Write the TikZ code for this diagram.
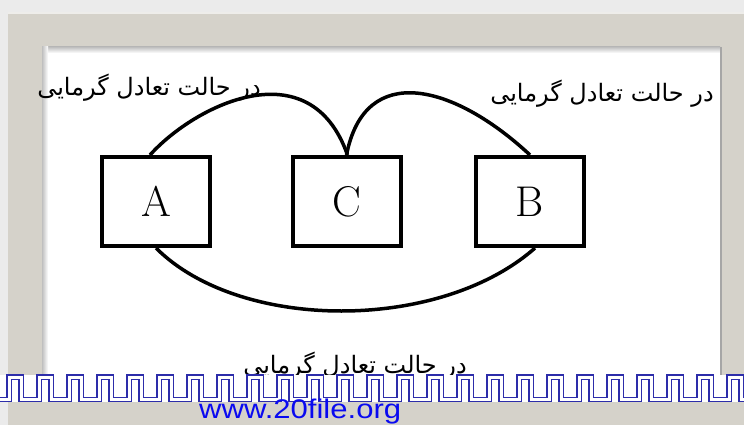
\documentclass[tikz,border=0pt]{standalone}
\usepackage{fontspec}
\newfontfamily\arabicfont[Script=Arabic]{DejaVu Sans}
\newfontfamily\linkfont{Liberation Sans}
\TeXXeTstate=1
\definecolor{framegray}{RGB}{213,210,202}
\definecolor{bandblue}{RGB}{45,45,170}
\definecolor{linkblue}{RGB}{10,10,240}
\tikzset{
  bodybox/.style={draw, line width=4pt, minimum width=108pt, minimum height=89pt,
    inner sep=0pt, font=\fontsize{43}{43}\selectfont},
  eqlabel/.style={font=\arabicfont\fontsize{24}{26}\selectfont, inner sep=0pt},
  arc/.style={line width=3.5pt},
  band/.style={draw=bandblue, line width=1.1pt, double=white, double distance=3pt}
}
\begin{document}
\begin{tikzpicture}[x=1pt, y=-1pt]
\useasboundingbox (0,0) rectangle (744,425);
\fill[black!8] (0,0) rectangle (744,425);
\fill[framegray] (8,12) rectangle (744,425);
\draw[white!60!framegray, line width=2pt] (8,13) -- (744,13);
\fill[white] (42,47) rectangle (720,380);
\shade[top color=black!25, bottom color=white] (42,47) rectangle (720,53);
\shade[left color=black!25, right color=white] (42,47) rectangle (48,380);
\draw[black!35, line width=1.5pt] (721,47) -- (721,380);

\node[bodybox] at (156,201.5) (A) {A};
\node[bodybox] at (346.5,201.5) (C) {C};
\node[bodybox] at (530,201.5) (B) {B};

\draw[arc] ([xshift=-6pt]A.north) .. controls (195,105) and (310,48) .. ([xshift=1pt]C.north);
\draw[arc] (C.north) .. controls (365,60) and (455,85) .. (B.north);
\draw[arc] (A.south) .. controls (240,332) and (440,332) .. ([xshift=5pt]B.south);

\node[eqlabel] at (149,88) (leftlabel) {\beginR در حالت تعادل گرمایی\endR};
\node[eqlabel] at (602,94) (rightlabel) {\beginR در حالت تعادل گرمایی\endR};
\node[eqlabel] at (355,366) (bottomlabel) {\beginR در حالت تعادل گرمایی\endR};

\fill[white] (0,374.5) rectangle (744,402);
\draw[band] (-21,399.7)
  \foreach \k in {-1,...,24} { -- (9+30*\k,399.7) -- (9+30*\k,377) -- (21+30*\k,377) -- (21+30*\k,399.7) }
  -- (760,399.7);

\node[font=\linkfont\fontsize{27}{27}\selectfont, text=linkblue, inner sep=0pt, anchor=base west, xscale=1.15] at (199,418) (site) {www.20file.org};
\end{tikzpicture}
\end{document}
